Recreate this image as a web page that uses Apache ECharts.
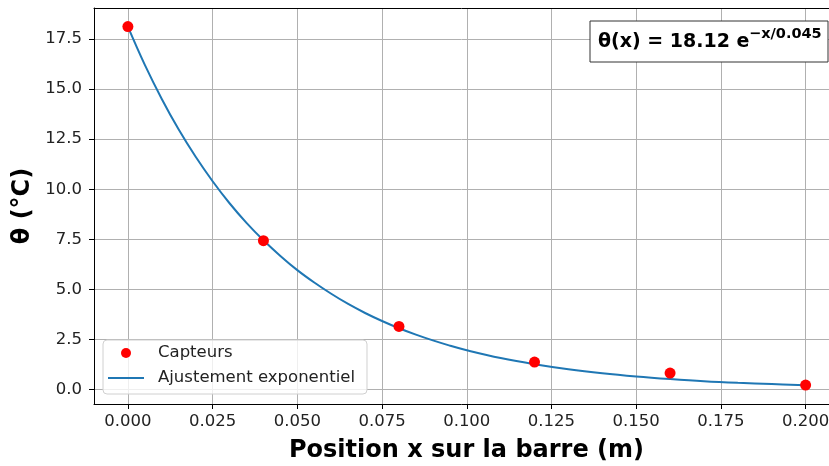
<!DOCTYPE html>
<html>
<head>
<meta charset="utf-8">
<script src="https://cdn.jsdelivr.net/npm/echarts@6/dist/echarts.min.js"></script>
<style>
html, body { margin: 0; padding: 0; background: #fff; }
#chart { width: 829px; height: 466px; }
</style>
</head>
<body>
<div id="chart"></div>
<script>
// capteurs (mesures)
var sensorX = [0.00, 0.04, 0.08, 0.12, 0.16, 0.20];
var sensorY = [18.12, 7.43, 3.15, 1.37, 0.82, 0.22];

// courbe d'ajustement
var fitX = [0.000, 0.005, 0.010, 0.015, 0.020, 0.025, 0.030, 0.035, 0.040, 0.045,
            0.050, 0.055, 0.060, 0.065, 0.070, 0.075, 0.080, 0.085, 0.090, 0.095,
            0.100, 0.110, 0.120, 0.130, 0.140, 0.150, 0.160, 0.170, 0.180, 0.190, 0.200];
var fitY = [18.12, 16.21, 14.51, 12.98, 11.62, 10.40, 9.30, 8.32, 7.45, 6.67,
            5.96, 5.34, 4.78, 4.27, 3.82, 3.42, 3.06, 2.74, 2.45, 2.19,
            1.96, 1.57, 1.26, 1.01, 0.81, 0.65, 0.52, 0.41, 0.33, 0.27, 0.21];

var xTicks = [0, 0.025, 0.05, 0.075, 0.1, 0.125, 0.15, 0.175, 0.2];
var yTicks = [0, 2.5, 5, 7.5, 10, 12.5, 15, 17.5];

var myChart = echarts.init(document.getElementById('chart'));

function pairs(xs, ys) {
    var out = [];
    for (var i = 0; i < xs.length; i++) {
        out.push([xs[i], ys[i]]);
    }
    return out;
}

var font = 'DejaVu Sans';
var xMin = -0.01, xMax = 0.2069;

var option = {
    animation: false,
    textStyle: { fontFamily: font },
    grid: {
        left: 94, right: 0, top: 8, bottom: 62,
        show: false, containLabel: false, outerBoundsMode: 'none'
    },
    xAxis: [{
        type: 'value',
        min: xMin,
        max: xMax,
        name: 'Position x sur la barre (m)',
        nameLocation: 'middle',
        nameGap: 35,
        nameTextStyle: {
            fontFamily: font, fontSize: 24, fontWeight: 'bold', color: '#000',
            padding: [0, 0, 0, 10]
        },
        axisLine: { show: true, onZero: false, lineStyle: { color: '#000', width: 1 } },
        axisTick: { show: true, length: 5, customValues: xTicks, lineStyle: { color: '#000' } },
        axisLabel: {
            customValues: xTicks,
            margin: 9,
            fontSize: 16.5,
            color: '#222',
            formatter: function (v) { return v.toFixed(3); }
        },
        splitLine: { show: true, lineStyle: { color: '#b0b0b0', width: 1 } }
    }, {
        // bord supérieur du cadre
        type: 'value',
        position: 'top',
        min: xMin,
        max: xMax,
        axisLine: { show: true, onZero: false, lineStyle: { color: '#000', width: 1 } },
        axisTick: { show: false },
        axisLabel: { show: false },
        splitLine: { show: false }
    }],
    yAxis: {
        type: 'value',
        min: -0.725,
        max: 19.05,
        name: 'θ (°C)',
        nameLocation: 'middle',
        nameGap: 58,
        nameTextStyle: { fontFamily: font, fontSize: 24, fontWeight: 'bold', color: '#000' },
        axisLine: { show: true, onZero: false, lineStyle: { color: '#000', width: 1 } },
        axisTick: { show: true, length: 5, customValues: yTicks, lineStyle: { color: '#000' } },
        axisLabel: {
            customValues: yTicks,
            margin: 12,
            fontSize: 16.5,
            color: '#222',
            formatter: function (v) { return v.toFixed(1); }
        },
        splitLine: { show: true, lineStyle: { color: '#b0b0b0', width: 1 } }
    },
    legend: {
        orient: 'vertical',
        left: 103,
        top: 340,
        padding: [3, 12, 6, 5],
        itemGap: 5,
        itemWidth: 36,
        itemHeight: 10,
        backgroundColor: 'rgba(255,255,255,0.8)',
        borderColor: '#d0d0d0',
        borderWidth: 1,
        borderRadius: 4,
        textStyle: { fontFamily: font, fontSize: 16.5, lineHeight: 20, color: '#222', padding: [0, 0, 0, 9] },
        data: [
            { name: 'Capteurs', icon: 'circle', itemStyle: { color: '#ff0000' } },
            {
                name: 'Ajustement exponentiel',
                icon: 'path://M0,0 L0,0 M0,4 L36,4 L36,6 L0,6 Z M36,10 L36,10',
                itemStyle: { color: '#1f77b4' }
            }
        ]
    },
    series: [
        {
            name: 'Ajustement exponentiel',
            type: 'line',
            data: pairs(fitX, fitY),
            smooth: 0.4,
            showSymbol: false,
            symbol: 'none',
            lineStyle: { color: '#1f77b4', width: 2 },
            itemStyle: { color: '#1f77b4' },
            z: 2
        },
        {
            name: 'Capteurs',
            type: 'scatter',
            data: pairs(sensorX, sensorY),
            symbolSize: 11,
            itemStyle: { color: '#ff0000', opacity: 1 },
            z: 3
        }
    ],
    graphic: [
        {
            type: 'rect',
            shape: { x: 590, y: 21, width: 238, height: 41 },
            style: { fill: '#fff', stroke: '#333', lineWidth: 1 },
            z: 100
        },
        {
            type: 'text',
            x: 598, y: 42,
            style: {
                text: 'θ(x) = 18.12 e',
                font: 'bold 19px "DejaVu Sans"',
                fill: '#000',
                verticalAlign: 'middle'
            },
            z: 101
        },
        {
            type: 'text',
            x: 749, y: 34,
            style: {
                text: '−x/0.045',
                font: 'bold 14.5px "DejaVu Sans"',
                fill: '#000',
                verticalAlign: 'middle'
            },
            z: 101
        }
    ]
};

myChart.setOption(option);
</script>
</body>
</html>
